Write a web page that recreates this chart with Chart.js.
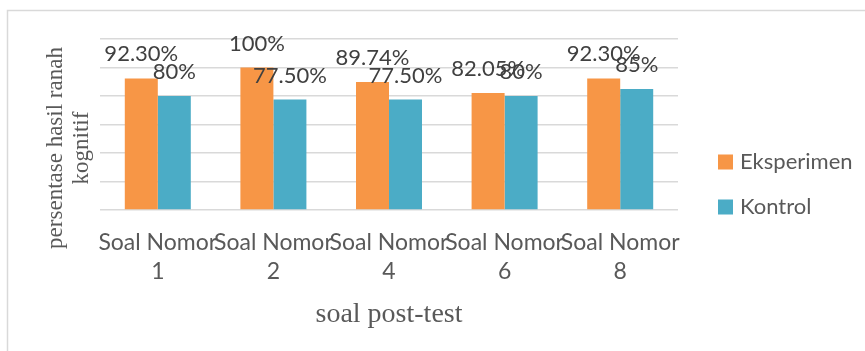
<!DOCTYPE html>
<html lang="id">
<head>
<meta charset="UTF-8">
<title>Persentase hasil ranah kognitif</title>
<script src="https://cdn.jsdelivr.net/npm/chart.js"></script>
<style>
  html, body { margin: 0; padding: 0; background: #fff; overflow: hidden; }
</style>
</head>
<body>
<canvas id="chart" width="865" height="351"></canvas>
<script>
// data
const categories = [['Soal Nomor', '1'], ['Soal Nomor', '2'], ['Soal Nomor', '4'], ['Soal Nomor', '6'], ['Soal Nomor', '8']];
const eksperimen = [92.30, 100, 89.74, 82.05, 92.30];
const kontrol = [80, 77.5, 77.5, 80, 85];
const seriesNames = ['Eksperimen', 'Kontrol'];
const yTicks = [0, 20, 40, 60, 80, 100, 120];

const SANS = 'Lato, "Open Sans", sans-serif';
const SERIF = '"Liberation Serif", "DejaVu Serif", serif';

function pct(v) {
  return Number.isInteger(v) ? v + '%' : v.toFixed(2) + '%';
}

// frame, axis titles, legend and value labels
const extras = {
  id: 'extras',
  beforeDraw(chart) {
    const c = chart.ctx;
    c.save();
    c.strokeStyle = '#d9d9d9';
    c.lineWidth = 1.5;
    c.strokeRect(7.5, 10.5, 900, 400);
    c.restore();
  },
  afterDatasetsDraw(chart) {
    const c = chart.ctx;
    c.save();
    // value labels
    c.font = '22px ' + SANS;
    c.fillStyle = '#404040';
    c.textAlign = 'center';
    c.textBaseline = 'alphabetic';
    chart.data.datasets.forEach((ds, i) => {
      chart.getDatasetMeta(i).data.forEach((bar, j) => {
        c.fillText(pct(ds.data[j]), bar.x, bar.y - 17);
      });
    });

    // y title
    c.fillStyle = '#595959';
    c.font = '23px ' + SERIF;
    c.textBaseline = 'middle';
    c.save();
    c.translate(56, 148);
    c.rotate(-Math.PI / 2);
    c.fillText('persentase hasil ranah', 0, 0);
    c.restore();
    c.save();
    c.translate(82, 148);
    c.rotate(-Math.PI / 2);
    c.fillText('kognitif', 0, 0);
    c.restore();

    // x title
    c.font = '28px ' + SERIF;
    c.fillText('soal post-test', (chart.chartArea.left + chart.chartArea.right) / 2, 315);

    // legend
    c.font = '22px ' + SANS;
    c.textAlign = 'left';
    const rows = [162, 207];
    chart.data.datasets.forEach((ds, i) => {
      c.fillStyle = ds.backgroundColor;
      c.fillRect(718, rows[i] - 7.5, 15, 15);
      c.fillStyle = '#595959';
      c.fillText(ds.label, 740, rows[i]);
    });
    c.restore();
  }
};

new Chart(document.getElementById('chart'), {
  type: 'bar',
  data: {
    labels: categories,
    datasets: [
      { label: seriesNames[0], data: eksperimen, backgroundColor: '#F79646', borderWidth: 0 },
      { label: seriesNames[1], data: kontrol, backgroundColor: '#4BACC6', borderWidth: 0 }
    ]
  },
  options: {
    responsive: false,
    animation: false,
    devicePixelRatio: 1,
    layout: { padding: { left: 100, right: 187, top: 39, bottom: 0 } },
    datasets: { bar: { categoryPercentage: 0.571, barPercentage: 1 } },
    plugins: {
      legend: { display: false },
      tooltip: { enabled: false }
    },
    scales: {
      x: {
        grid: { display: false, drawTicks: false },
        border: { display: false },
        ticks: {
          autoSkip: false,
          maxRotation: 0,
          minRotation: 0,
          padding: 18,
          color: '#595959',
          font: { family: SANS, size: 23, lineHeight: 1.26 }
        },
        afterFit(s) { s.height = 141; }
      },
      y: {
        min: yTicks[0],
        max: yTicks[yTicks.length - 1],
        afterBuildTicks(s) { s.ticks = yTicks.map(v => ({ value: v })); },
        grid: { color: '#d9d9d9', lineWidth: 1.5, drawTicks: false },
        border: { display: false },
        ticks: { display: false },
        afterFit(s) { s.width = 0; }
      }
    }
  },
  plugins: [extras]
});
</script>
</body>
</html>
